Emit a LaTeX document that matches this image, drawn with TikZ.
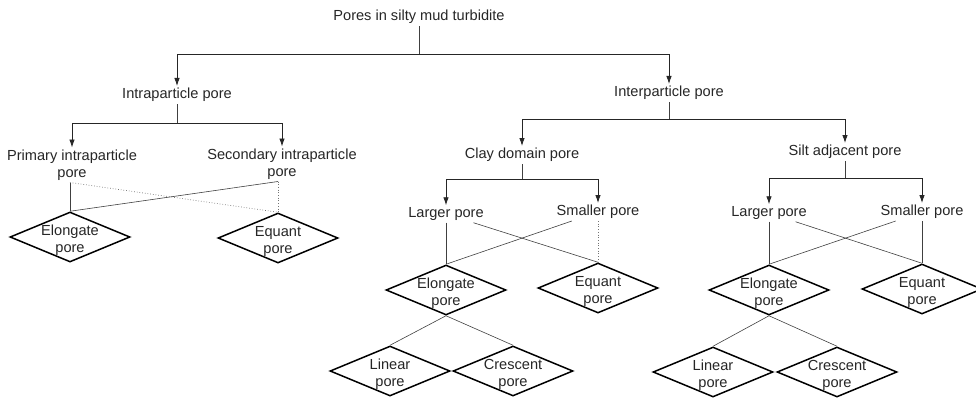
\documentclass[tikz,border=0pt]{standalone}
\usepackage{fontspec}
\setmainfont{Liberation Sans}
\usetikzlibrary{shapes.geometric,arrows.meta}

\tikzset{
  txt/.style={align=center, inner sep=2pt, text=black!85},
  arr/.style={-{Latex[length=8pt,width=5.5pt]}, black!85, line width=0.8pt},
  link/.style={black!75, line width=0.6pt},
  dot/.style={black!55, dotted, line width=0.7pt},
  pdia/.style={diamond, draw, line width=1.5pt, minimum width=120pt, minimum height=50pt, inner sep=0pt},
  dtext/.style={align=center, yshift=-3pt, text=black!85}
}

\begin{document}
\begin{tikzpicture}[x=1pt,y=-1pt,font=\fontsize{14.6}{17}\selectfont]
\useasboundingbox (0,0) rectangle (976,397);

\node[txt] (root) at (419,17) {Pores in silty mud turbidite};
\node[txt] (intra) at (177,95) {Intraparticle pore};
\node[txt] (inter) at (669,93) {Interparticle pore};

\coordinate (j0) at (419,54);
\draw[link] (root) -- (j0);
\draw[arr] (j0) -| (intra);
\draw[arr] (j0) -| (inter);

% intraparticle branch
\node[txt] (prim) at (72,165) {Primary intraparticle\\pore};
\node[txt] (sec) at (282,164) {Secondary intraparticle\\pore};
\coordinate (j1) at (177,123);
\draw[link] (intra) -- (j1);
\draw[arr] (j1) -| (prim);
\draw[arr] (j1) -| (sec);

\node[pdia, label={[dtext]center:Elongate\\pore}] (e1) at (70,237) {};
\node[pdia, label={[dtext]center:Equant\\pore}] (q1) at (278,238) {};
\draw[link] (prim.south -| e1) -- (e1.north);
\draw[dot] (prim.south -| e1) -- (q1.north);
\draw[link] (sec.south -| q1) -- (e1.north);
\draw[dot] (sec.south -| q1) -- (q1.north);

% interparticle branch
\node[txt] (clay) at (522,155) {Clay domain pore};
\node[txt] (silt) at (845,152) {Silt adjacent pore};
\coordinate (j2) at (669,119);
\draw[link] (inter) -- (j2);
\draw[arr] (j2) -| (clay);
\draw[arr] (j2) -| (silt);

% clay domain
\node[txt] (cl) at (446,214) {Larger pore};
\node[txt] (cs) at (598,212) {Smaller pore};
\coordinate (j3) at (522,179);
\draw[link] (clay) -- (j3);
\draw[arr] (j3) -| (cl);
\draw[arr] (j3) -| (cs);

\node[pdia, label={[dtext]center:Elongate\\pore}] (ce) at (446,290) {};
\node[pdia, label={[dtext]center:Equant\\pore}] (cq) at (598,288) {};
\node[pdia, label={[dtext]center:Linear\\pore}] (cn) at (390,371) {};
\node[pdia, label={[dtext]center:Crescent\\pore}] (cc) at (513,371) {};
\draw[link] (cl) -- (ce.north);
\draw[link] (cl) -- (cq.north);
\draw[link] (cs) -- (ce.north);
\draw[dot] (cs) -- (cq.north);
\draw[link] (ce.south) -- (cn.north);
\draw[link] (ce.south) -- (cc.north);

% silt adjacent
\node[txt] (sl) at (769,213) {Larger pore};
\node[txt] (ss) at (922,212) {Smaller pore};
\coordinate (j4) at (845,178);
\draw[link] (silt) -- (j4);
\draw[arr] (j4) -| (sl);
\draw[arr] (j4) -| (ss);

\node[pdia, label={[dtext]center:Elongate\\pore}] (se) at (769,290) {};
\node[pdia, label={[dtext]center:Equant\\pore}] (sq) at (922,289) {};
\node[pdia, label={[dtext]center:Linear\\pore}] (sn) at (713,372) {};
\node[pdia, label={[dtext]center:Crescent\\pore}] (sc) at (837,372) {};
\draw[link] (sl) -- (se.north);
\draw[link] (sl) -- (sq.north);
\draw[link] (ss) -- (se.north);
\draw[link] (ss) -- (sq.north);
\draw[link] (se.south) -- (sn.north);
\draw[link] (se.south) -- (sc.north);
\end{tikzpicture}
\end{document}
